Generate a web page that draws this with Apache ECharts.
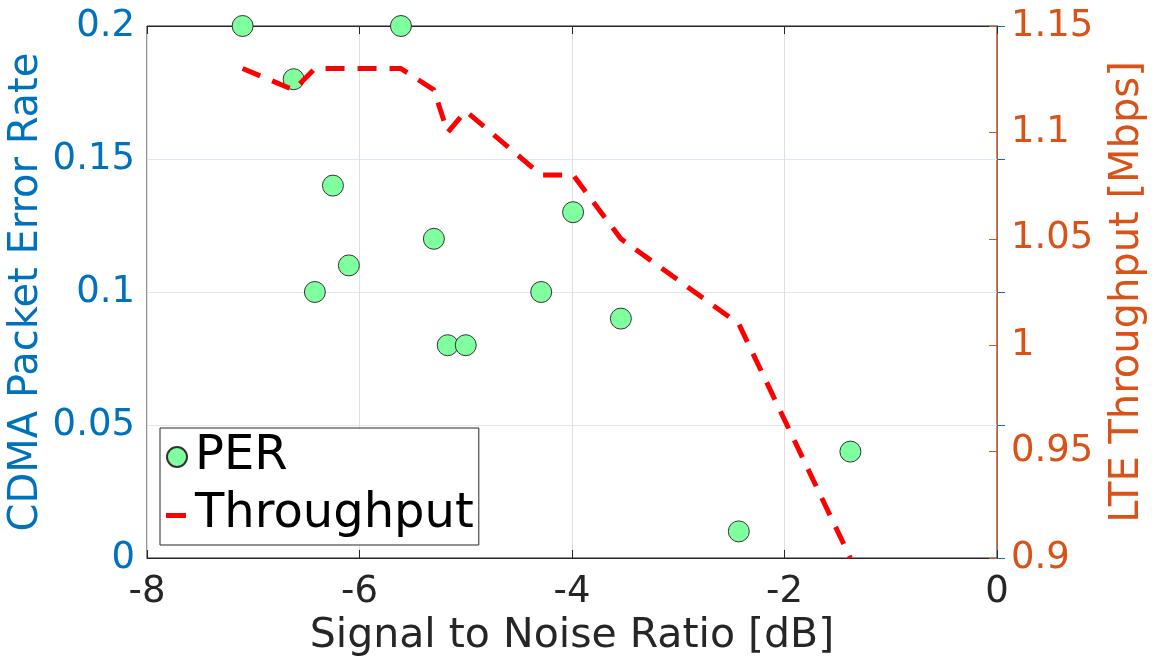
<!DOCTYPE html>
<html>
<head>
<meta charset="utf-8">
<script src="https://cdn.jsdelivr.net/npm/echarts@6/dist/echarts.min.js"></script>
<style>
  html, body { margin: 0; padding: 0; background: #fff; }
  #chart { width: 1159px; height: 662px; }
</style>
</head>
<body>
<div id="chart"></div>
<script>
// SNR sample points, sorted
const snr = [-7.1, -6.62, -6.42, -6.25, -6.1, -5.61, -5.3, -5.17, -5.0, -4.29, -3.99, -3.54, -2.43, -1.38];
// CDMA packet error rate at each SNR (left axis)
const per = [0.2, 0.18, 0.1, 0.14, 0.11, 0.2, 0.12, 0.08, 0.08, 0.1, 0.13, 0.09, 0.01, 0.04];
// LTE throughput in Mbps at each SNR (right axis)
const throughput = [1.13, 1.12, 1.13, 1.13, 1.13, 1.13, 1.12, 1.10, 1.11, 1.08, 1.08, 1.05, 1.01, 0.90];

const xTicks = [-8, -6, -4, -2, 0];
const perTicks = [0, 0.05, 0.1, 0.15, 0.2];
const thrTicks = [0.9, 0.95, 1, 1.05, 1.1, 1.15];

const FONT = 'DejaVu Sans';
const BLUE = '#0072BD';
const ORANGE = '#D95319';
const DARK = '#262626';

const chart = echarts.init(document.getElementById('chart'), null, { renderer: 'canvas' });

let option = {
  animation: false,
  backgroundColor: '#fff',
  grid: {
    left: 147, right: 162, top: 26, bottom: 104,
    outerBoundsMode: 'none', containLabel: false,
    show: true, borderColor: DARK, borderWidth: 1, backgroundColor: 'transparent'
  },
  legend: {
    orient: 'vertical',
    left: 160, top: 428,
    padding: [5, 5, 6, 4],
    itemGap: 10,
    itemWidth: 26, itemHeight: 20,
    backgroundColor: '#fff',
    borderColor: DARK, borderWidth: 1, borderRadius: 0,
    textStyle: { fontFamily: FONT, fontSize: 48, color: '#000', lineHeight: 48 },
    data: [
      { name: 'PER' },
      // short red dash, padded so it keeps a 20x5 look inside the icon box
      { name: 'Throughput', icon: 'path://M0,0M26,20M2,8h20v5h-20z', itemStyle: { color: '#FF0000' } }
    ]
  },
  xAxis: [{
    type: 'value',
    min: xTicks[0], max: xTicks[xTicks.length - 1], interval: 2,
    name: 'Signal to Noise Ratio [dB]',
    nameLocation: 'middle', nameGap: 58, nameMoveOverlap: false,
    nameTextStyle: { fontFamily: FONT, fontSize: 41, color: DARK },
    axisLine: { lineStyle: { color: DARK, width: 1 } },
    axisTick: { inside: true, length: 8, lineStyle: { color: DARK } },
    axisLabel: { fontFamily: FONT, fontSize: 37, color: DARK, margin: 16 },
    splitLine: { show: true, lineStyle: { color: '#DFDFDF', width: 1 } }
  }, {
    type: 'value', position: 'top',
    min: xTicks[0], max: xTicks[xTicks.length - 1], interval: 2,
    axisLine: { lineStyle: { color: DARK, width: 1 } },
    axisTick: { inside: true, length: 8, lineStyle: { color: DARK } },
    axisLabel: { show: false },
    splitLine: { show: false }
  }],
  yAxis: [{
    type: 'value',
    min: perTicks[0], max: perTicks[perTicks.length - 1], interval: 0.05,
    name: 'CDMA Packet Error Rate',
    nameLocation: 'middle', nameGap: 100, nameMoveOverlap: false,
    nameTextStyle: { fontFamily: FONT, fontSize: 40, color: BLUE },
    axisLine: { show: true, lineStyle: { color: BLUE, width: 1 } },
    axisTick: { show: true, inside: true, length: 8, lineStyle: { color: BLUE } },
    axisLabel: { fontFamily: FONT, fontSize: 37, color: BLUE, margin: 12 },
    splitLine: { show: true, lineStyle: { color: '#D9E8F3', width: 1 } }
  }, {
    type: 'value', position: 'right',
    min: thrTicks[0], max: thrTicks[thrTicks.length - 1], interval: 0.05,
    name: 'LTE Throughput [Mbps]',
    nameLocation: 'middle', nameGap: 111, nameMoveOverlap: false,
    nameTextStyle: { fontFamily: FONT, fontSize: 40, color: ORANGE },
    axisLine: { show: true, lineStyle: { color: ORANGE, width: 1 } },
    axisTick: { show: true, inside: true, length: 8, lineStyle: { color: ORANGE } },
    axisLabel: { fontFamily: FONT, fontSize: 37, color: ORANGE, margin: 14 },
    splitLine: { show: false }
  }],
  series: [{
    name: 'PER',
    type: 'scatter',
    xAxisIndex: 0, yAxisIndex: 0,
    symbol: 'circle', symbolSize: 21,
    itemStyle: { color: '#80FF9F', borderColor: '#333', borderWidth: 1, opacity: 1 },
    data: snr.map((x, i) => [x, per[i]])
  }, {
    name: 'Throughput',
    type: 'line',
    xAxisIndex: 0, yAxisIndex: 1,
    symbol: 'none', showSymbol: false,
    itemStyle: { color: '#FF0000' },
    lineStyle: { color: '#FF0000', width: 5, type: [19, 13] },
    data: snr.map((x, i) => [x, throughput[i]])
  }]
};

chart.setOption(option);
</script>
</body>
</html>
